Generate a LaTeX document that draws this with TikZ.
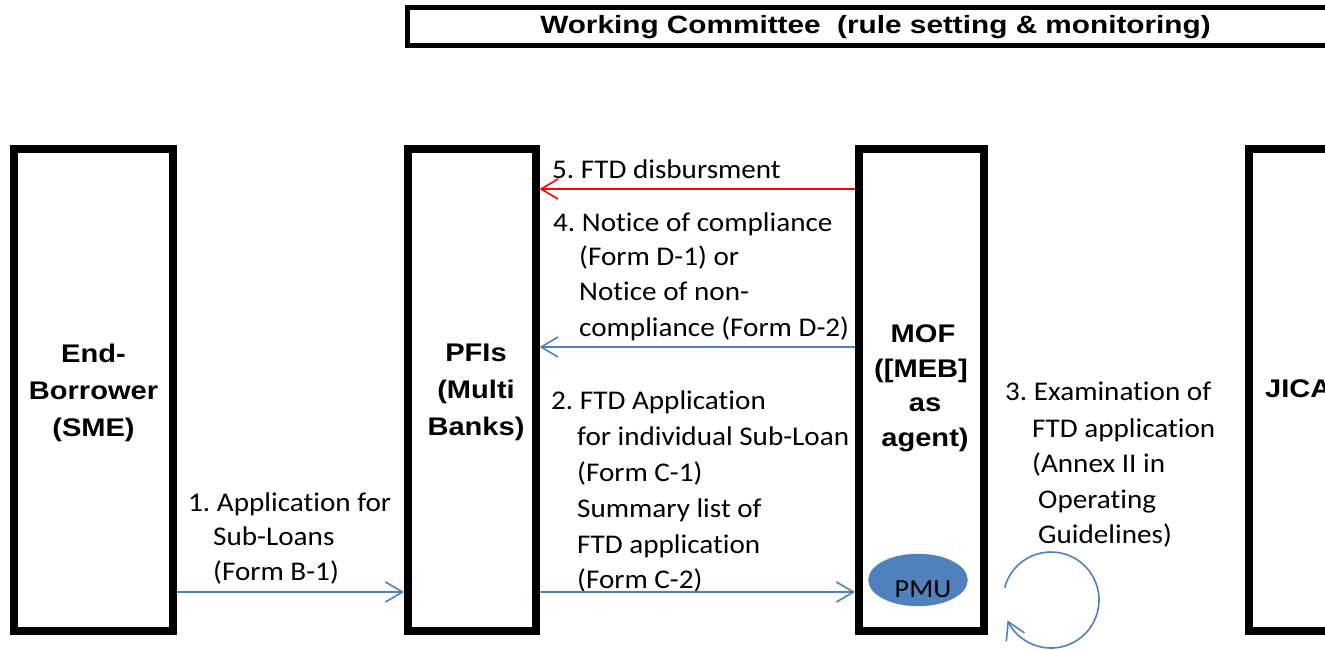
\documentclass[tikz,border=0pt]{standalone}
\usepackage{fontspec}
\setmainfont{Carlito}[FakeStretch=1.08, Ligatures=NoCommon]
\newfontfamily\ttlfont{Liberation Sans}[FakeStretch=1.14]
\newfontfamily\wcfont{Liberation Sans}[FakeStretch=1.19]
\usetikzlibrary{arrows.meta,shapes.geometric}
\definecolor{ablue}{HTML}{4F81BD}
\definecolor{ared}{HTML}{FF0000}
\frenchspacing
\begin{document}
\begin{tikzpicture}[x=1pt,y=1pt,
  box/.style={draw, rectangle, line width=8pt, inner sep=0pt},
  ttl/.style={anchor=base, inner sep=0pt, font=\ttlfont\bfseries\fontsize{25.5}{30}\selectfont},
  lbl/.style={anchor=base west, inner sep=0pt, font=\fontsize{27}{32}\selectfont},
  barrow/.style={line width=1.6pt, -{Straight Barb[length=17pt,width=20pt]}},
  rarrow/.style={barrow, draw=ared},
  larrow/.style={barrow, draw=ablue}]
\useasboundingbox (0,0) rectangle (1325,-649);
\clip (0,0) rectangle (1325,-649);
\fill[white] (0,0) rectangle (1325,-649);

% boxes
\node[box, line width=5pt, minimum width=935.5, minimum height=38] (wc) at (875.25,-26.5) {};
\node[anchor=base, inner sep=0pt, font=\wcfont\bfseries\fontsize{25}{30}\selectfont] (wct) at (875.5,-33) {Working Committee~~(rule setting \& monitoring)};

\node[box, minimum width=159.5, minimum height=482] (eb) at (93.25,-390) {};
\node[box, minimum width=127.5, minimum height=482] (pfi) at (471.75,-390) {};
\node[box, minimum width=125, minimum height=482] (mof) at (921.5,-390) {};
\node[box, minimum width=110, minimum height=482] (jica) at (1304,-390) {};

% titles
\node[ttl] (eb1) at (93.5,-362) {End-};
\node[ttl] (eb2) at (93.5,-399) {Borrower};
\node[ttl] (eb3) at (93.5,-436) {(SME)};
\node[ttl] (pf1) at (476,-361) {PFIs};
\node[ttl] (pf2) at (476,-398) {(Multi};
\node[ttl] (pf3) at (476,-435) {Banks)};
\node[ttl] (mo1) at (923,-342) {MOF};
\node[ttl] (mo2) at (921,-377) {([MEB]};
\node[ttl] (mo3) at (925,-411) {as};
\node[ttl] (mo4) at (925,-446) {agent)};
\node[ttl, anchor=base west] (ji1) at (1265,-397) {JICA};

% PMU
\node[ellipse, fill=ablue, draw=ablue, minimum width=99, minimum height=52, inner sep=0pt] (pmu) at (918,-580) {};
\node[anchor=base, inner sep=0pt, font=\fontsize{26}{30}\selectfont] (pmut) at (923,-597) {PMU};

% labels
\node[lbl] (l1a) at (188,-511) {1. Application for};
\node[lbl] (l1b) at (213,-545) {Sub-Loans};
\node[lbl] (l1c) at (213,-580) {(Form B-1)};

\node[lbl] (l5a) at (552,-178) {5. FTD disbursment};

\node[lbl] (l4a) at (553,-231) {4. Notice of compliance};
\node[lbl] (l4b) at (579,-265) {(Form D-1) or};
\node[lbl] (l4c) at (579,-300) {Notice of non-};
\node[lbl] (l4d) at (579,-336) {compliance (Form D-2)};

\node[lbl] (l2a) at (551,-409) {2. FTD Application};
\node[lbl] (l2b) at (577,-445) {for individual Sub-Loan};
\node[lbl] (l2c) at (577,-481) {(Form C-1)};
\node[lbl] (l2d) at (577,-517) {Summary list of};
\node[lbl] (l2e) at (577,-553) {FTD application};
\node[lbl] (l2f) at (577,-588) {(Form C-2)};

\node[lbl] (l3a) at (1005,-400) {3. Examination of};
\node[lbl] (l3b) at (1032,-437) {FTD application};
\node[lbl] (l3c) at (1032,-472) {(Annex II in};
\node[lbl] (l3d) at (1038,-508) {Operating};
\node[lbl] (l3e) at (1038,-543) {Guidelines)};

% arrow rows
\coordinate (r5) at (0,-189);
\coordinate (r4) at (0,-347);
\coordinate (r2) at (0,-592);
\coordinate (r1) at (0,-592);
\coordinate (loopc) at (1051,-600);

\draw[larrow] (eb.east |- r1) -- (pfi.west |- r1);
\draw[larrow] (pfi.east |- r2) -- (mof.west |- r2);
\draw[larrow] (mof.west |- r4) -- (pfi.east |- r4);
\draw[rarrow] (mof.west |- r5) -- (pfi.east |- r5);
\draw[larrow] ([shift={(165:48)}]loopc) arc[start angle=165, end angle=-155, radius=48];
\end{tikzpicture}
\end{document}
